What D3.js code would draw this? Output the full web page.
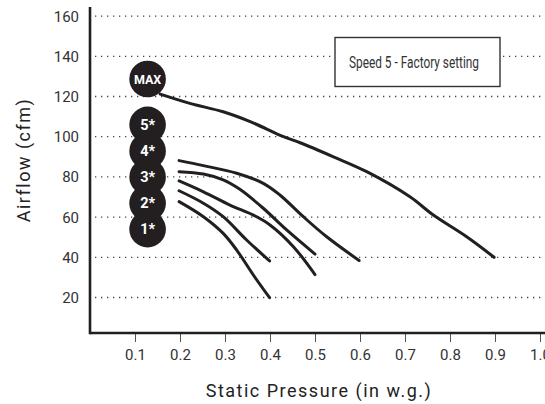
<!DOCTYPE html>
<html>
<head>
<meta charset="utf-8">
<script src="https://cdn.jsdelivr.net/npm/d3@7"></script>
<style>
  html, body { margin: 0; padding: 0; background: #fff; }
  svg { display: block; }
</style>
</head>
<body>
<svg id="chart" width="545" height="404"></svg>
<script>
// ---- data ----
const yTicks = [20, 40, 60, 80, 100, 120, 140, 160];
const xTicks = [0.1, 0.2, 0.3, 0.4, 0.5, 0.6, 0.7, 0.8, 0.9, 1.0];
const speedLabels = ["MAX", "5*", "4*", "3*", "2*", "1*"];
const speedLabelX = 0.128;
const speedLabelY = [128.7, 105.9, 92.9, 80, 66.9, 54];
const curveMax = [[0.156,121.2],[0.222,116.6],[0.296,112.4],[0.356,107.5],[0.43,100],[0.467,97],[0.541,90],[0.615,82.6],[0.711,70.1],[0.763,61],[0.837,50.2],[0.898,40]];
const curve5 = [[0.198,88.1],[0.252,85.6],[0.326,81.8],[0.385,76.8],[0.422,71],[0.474,60.2],[0.526,50.2],[0.598,38.4]];
const curve4 = [[0.198,82.6],[0.252,81.4],[0.296,78.5],[0.333,73.8],[0.385,64.4],[0.437,53.6],[0.5,41.6]];
const curve3 = [[0.198,78],[0.252,72.6],[0.311,66],[0.363,61],[0.4,56.1],[0.452,45.3],[0.5,31.4]];
const curve2 = [[0.198,73.1],[0.252,66.9],[0.296,60.2],[0.348,48.6],[0.399,38.2]];
const curve1 = [[0.198,67.7],[0.252,60.2],[0.296,51.9],[0.326,43.6],[0.363,31.2],[0.399,19.9]];
const curves = [curveMax, curve5, curve4, curve3, curve2, curve1];
const legendText = "Speed 5 - Factory setting";
const xTitle = "Static Pressure (in w.g.)";
const yTitle = "Airflow (cfm)";

// ---- drawing ----
const ink = "#231f20";
const svg = d3.select("#chart");
const x = d3.scaleLinear().domain([0, 1]).range([90, 540]);
const y = d3.scaleLinear().domain([0, 160]).range([337.7, 16.1]);
const baseY = 333;

// gridlines
svg.append("g").selectAll("line").data(yTicks).join("line")
  .attr("x1", 95).attr("x2", 545)
  .attr("y1", d => y(d)).attr("y2", d => y(d))
  .attr("stroke", "#444").attr("stroke-width", 1.3)
  .attr("stroke-dasharray", "1.3,4.7");

// y tick labels
svg.append("g").selectAll("text").data(yTicks).join("text")
  .attr("x", 79).attr("y", d => y(d)).attr("dy", "0.36em")
  .attr("text-anchor", "end")
  .attr("font-family", "Roboto, sans-serif").attr("font-size", 15)
  .attr("fill", "#333").text(d => d);

// x axis
const xAxis = d3.axisBottom(x).tickValues(xTicks).tickSize(9).tickPadding(7)
  .tickFormat(d3.format(".1f"));
const gx = svg.append("g").attr("transform", `translate(0,${baseY})`).call(xAxis);
gx.select(".domain").remove();
gx.selectAll(".tick line").attr("stroke", "#555").attr("stroke-width", 1);
gx.selectAll(".tick text").attr("font-family", "Roboto, sans-serif")
  .attr("font-size", 15).attr("fill", "#333");

// axis lines
svg.append("line").attr("x1", 90).attr("x2", 545).attr("y1", baseY).attr("y2", baseY)
  .attr("stroke", ink).attr("stroke-width", 2.6);
svg.append("line").attr("x1", 90).attr("x2", 90).attr("y1", 7).attr("y2", baseY + 1.3)
  .attr("stroke", ink).attr("stroke-width", 2.6);

// legend box
svg.append("rect").attr("x", 335).attr("y", 37.5).attr("width", 165).attr("height", 49)
  .attr("fill", "#fff").attr("stroke", "#333").attr("stroke-width", 1.4);
svg.append("text").attr("x", 349).attr("y", 62).attr("dy", "0.36em")
  .attr("font-family", "Roboto, sans-serif")
  .attr("font-size", 16.5).attr("fill", "#333")
  .attr("textLength", 130).attr("lengthAdjust", "spacingAndGlyphs")
  .text(legendText);

// curves
const line = d3.line().x(d => x(d[0])).y(d => y(d[1])).curve(d3.curveCatmullRom.alpha(0.5));
svg.append("g").selectAll("path").data(curves).join("path")
  .attr("d", line).attr("fill", "none").attr("stroke", ink)
  .attr("stroke-width", 3).attr("stroke-linecap", "round");

// speed badges
const badges = svg.append("g").selectAll("g").data(speedLabels).join("g")
  .attr("transform", (d, i) => `translate(${x(speedLabelX)},${y(speedLabelY[i])})`);
badges.append("circle").attr("r", 18.3).attr("fill", ink);
badges.append("text").attr("text-anchor", "middle").attr("dy", "0.36em")
  .attr("font-family", "Roboto, sans-serif").attr("font-weight", "bold")
  .attr("font-size", d => d === "MAX" ? 12.5 : 14.5)
  .attr("fill", "#fff").text(d => d);

// titles
svg.append("text").attr("x", 319).attr("y", 397).attr("text-anchor", "middle")
  .attr("font-family", "Roboto, sans-serif").attr("font-size", 18)
  .attr("letter-spacing", 1.5).attr("fill", "#222")
  .text(xTitle);
svg.append("text").attr("transform", "translate(30,160) rotate(-90)")
  .attr("text-anchor", "middle")
  .attr("font-family", "Roboto, sans-serif").attr("font-size", 18)
  .attr("letter-spacing", 1.5).attr("fill", "#222")
  .text(yTitle);
</script>
</body>
</html>
